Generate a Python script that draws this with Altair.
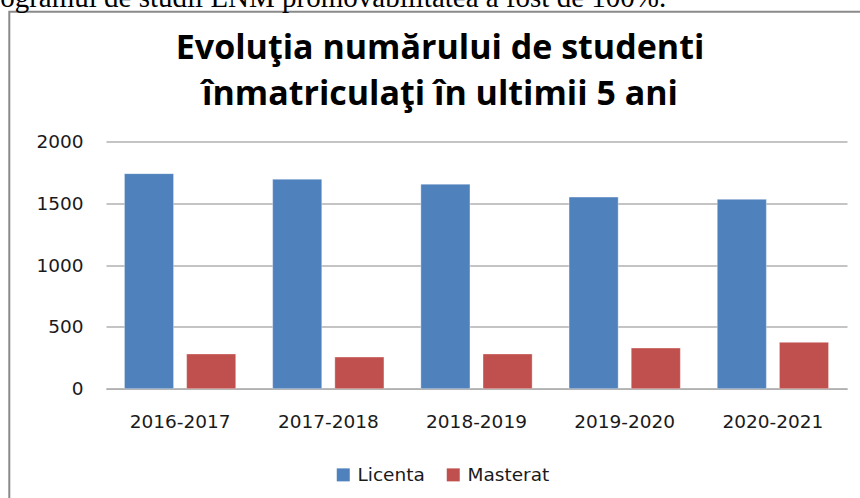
import altair as alt
import pandas as pd

years = ["2016-2017", "2017-2018", "2018-2019", "2019-2020", "2020-2021"]
licenta = [1740, 1695, 1655, 1550, 1532]
masterat = [281, 256, 281, 329, 375]
series = ["Licenta", "Masterat"]
colors = ["#4F81BD", "#C0504D"]
y_ticks = [0, 500, 1000, 1500, 2000]
title_text = "Evoluţia numărului de studenti\nînmatriculaţi în ultimii 5 ani"
caption = "programul de studii LNM promovabilitatea a fost de 100%."

rows = []
for i, yr in enumerate(years):
    rows.append({"year": yr, "series": "Licenta", "value": licenta[i]})
    rows.append({"year": yr, "series": "Masterat", "value": masterat[i]})
df = pd.DataFrame(rows)

LABEL_FONT = "DejaVu Sans"

bars = alt.Chart(df).mark_bar(stroke="white", strokeOpacity=0.35, strokeWidth=1).encode(
    x=alt.X("year:N", sort=years,
            scale=alt.Scale(paddingInner=0.249, paddingOuter=0.1245),
            axis=alt.Axis(title=None, labelAngle=0, ticks=False, tickSize=0,
                          labelPadding=24, labelFontSize=18.5, labelFont=LABEL_FONT,
                          labelColor="#1a1a1a", domainColor="#b0b0b0", domainWidth=1.5,
                          grid=False)),
    xOffset=alt.XOffset("series:N", sort=series,
                        scale=alt.Scale(paddingInner=0.21, paddingOuter=0)),
    y=alt.Y("value:Q", scale=alt.Scale(domain=[0, 2000], nice=False),
            axis=alt.Axis(title=None, values=y_ticks, format="d", ticks=False, tickSize=0,
                          domain=False, labelPadding=23, labelFontSize=18.5,
                          labelFont=LABEL_FONT, labelColor="#1a1a1a",
                          gridColor="#b0b0b0", gridWidth=1.5)),
    color=alt.Color("series:N", sort=series,
                    scale=alt.Scale(domain=series, range=colors),
                    legend=alt.Legend(title=None, orient="none", direction="horizontal",
                                      legendX=228, legendY=324, padding=0,
                                      symbolType="square", symbolSize=169,
                                      symbolStrokeWidth=0, labelOffset=5,
                                      columnPadding=19, labelFontSize=18.5,
                                      labelFont=LABEL_FONT, labelColor="#1a1a1a")),
)

frame = alt.Chart(pd.DataFrame({"k": [0]})).mark_rect(
    fillOpacity=0, stroke="#8a8a8a", strokeWidth=2
).encode(
    x=alt.value(-96.7), x2=alt.value(800),
    y=alt.value(-129.8), y2=alt.value(420),
)

cap = alt.Chart(pd.DataFrame({"t": [caption]})).mark_text(
    align="left", baseline="alphabetic", font="Liberation Serif",
    fontSize=29, color="black"
).encode(
    x=alt.value(-130), y=alt.value(-134.5), text="t:N"
)

title = alt.Chart(pd.DataFrame({"t": [title_text]})).mark_text(
    align="center", baseline="alphabetic", font="Open Sans", fontWeight="bold",
    fontSize=34, lineHeight=46, lineBreak="\n", color="black"
).encode(
    x=alt.value(334), y=alt.value(-82.5), text="t:N"
)

chart = alt.layer(frame, cap, title, bars).properties(
    width=741, height=247.2,
    autosize=alt.AutoSizeParams(type="none"),
    padding={"left": 106, "top": 141.5, "right": 13, "bottom": 109.3},
    background="white",
).configure_view(stroke=None)

chart.save("out.html", embed_options={"renderer": "svg", "actions": False})
